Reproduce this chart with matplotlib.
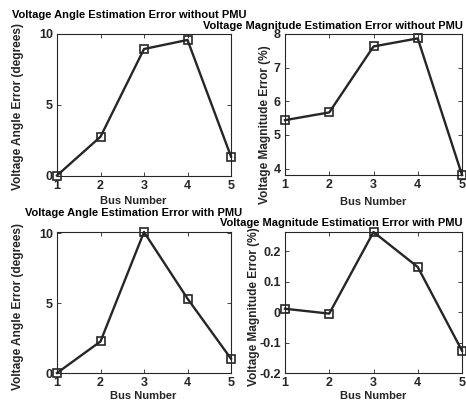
import matplotlib
matplotlib.use('Agg')
import matplotlib.pyplot as plt

buses = [1, 2, 3, 4, 5]
angle_err_no_pmu = [0.0, 2.74, 8.94, 9.58, 1.34]
mag_err_no_pmu = [5.44, 5.67, 7.63, 7.87, 3.81]
angle_err_pmu = [0.0, 2.26, 10.1, 5.33, 1.02]
mag_err_pmu = [0.011, -0.005, 0.263, 0.148, -0.127]

titles = ['Voltage Angle Estimation Error without PMU',
          'Voltage Magnitude Estimation Error without PMU',
          'Voltage Angle Estimation Error with PMU',
          'Voltage Magnitude Estimation Error with PMU']
ylabels = ['Voltage Angle Error (degrees)', 'Voltage Magnitude Error (%)',
           'Voltage Angle Error (degrees)', 'Voltage Magnitude Error (%)']

plt.rcParams['font.family'] = ['Liberation Sans', 'DejaVu Sans']
plt.rcParams['font.weight'] = 'bold'
TXT = '#262626'

W, H = 466, 412
fig = plt.figure(figsize=(W / 100, H / 100), dpi=100)


def box(l, t, r, b):
    return [l / W, 1 - b / H, (r - l) / W, (b - t) / H]


axes = [fig.add_axes(box(57, 34, 231, 175.5)),
        fig.add_axes(box(285, 34, 462, 175)),
        fig.add_axes(box(57, 232, 231, 373)),
        fig.add_axes(box(285, 232, 462, 373))]
data = [angle_err_no_pmu, mag_err_no_pmu, angle_err_pmu, mag_err_pmu]
ylims = [(0, 10), (min(mag_err_no_pmu), 8), (0, max(angle_err_pmu)), (-0.2, max(mag_err_pmu))]
yticks = [[0, 5, 10], [4, 5, 6, 7, 8], [0, 5, 10], [-0.2, -0.1, 0, 0.1, 0.2]]
yticklabels = [['0', '5', '10'], ['4', '5', '6', '7', '8'], ['0', '5', '10'],
               ['-0.2', '-0.1', '0', '0.1', '0.2']]

for ax, y, yl, yt, ytl in zip(axes, data, ylims, yticks, yticklabels):
    ax.plot(buses, y, color='#262626', lw=1.7, marker='s', ms=5.5,
            mfc='none', mec='#262626', mew=1.2, clip_on=False, zorder=3)
    ax.set_xlim(1, 5)
    ax.set_ylim(*yl)
    ax.set_xticks(buses)
    ax.set_yticks(yt)
    ax.set_yticklabels(ytl)
    ax.tick_params(direction='in', length=3, width=0.6, color='#262626',
                   labelsize=9, labelcolor=TXT, top=True, right=True, pad=3)
    for s in ax.spines.values():
        s.set_color('#262626')
        s.set_linewidth(0.8)

# x labels
for x, yy in [(133, 201), (373, 202), (143, 396), (373, 396)]:
    fig.text(x / W, 1 - yy / H, 'Bus Number', ha='center', va='center',
             fontsize=8, color=TXT)

# titles
fig.text(12 / W, 1 - 15 / H, titles[0], ha='left', va='center', fontsize=8, color='k')
fig.text(463 / W, 1 - 26 / H, titles[1], ha='right', va='center', fontsize=8, color='k')
fig.text(25 / W, 1 - 213 / H, titles[2], ha='left', va='center', fontsize=8, color='k')
fig.text(463 / W, 1 - 223 / H, titles[3], ha='right', va='center', fontsize=8, color='k')

# y labels
for (x, yy), lab in zip([(18, 107), (265, 125), (18, 307), (254, 307)], ylabels):
    fig.text(x / W, 1 - yy / H, lab, ha='center', va='center', rotation=90,
             fontsize=8.6, color=TXT)

fig.savefig('out.png', dpi=100, facecolor='white')
